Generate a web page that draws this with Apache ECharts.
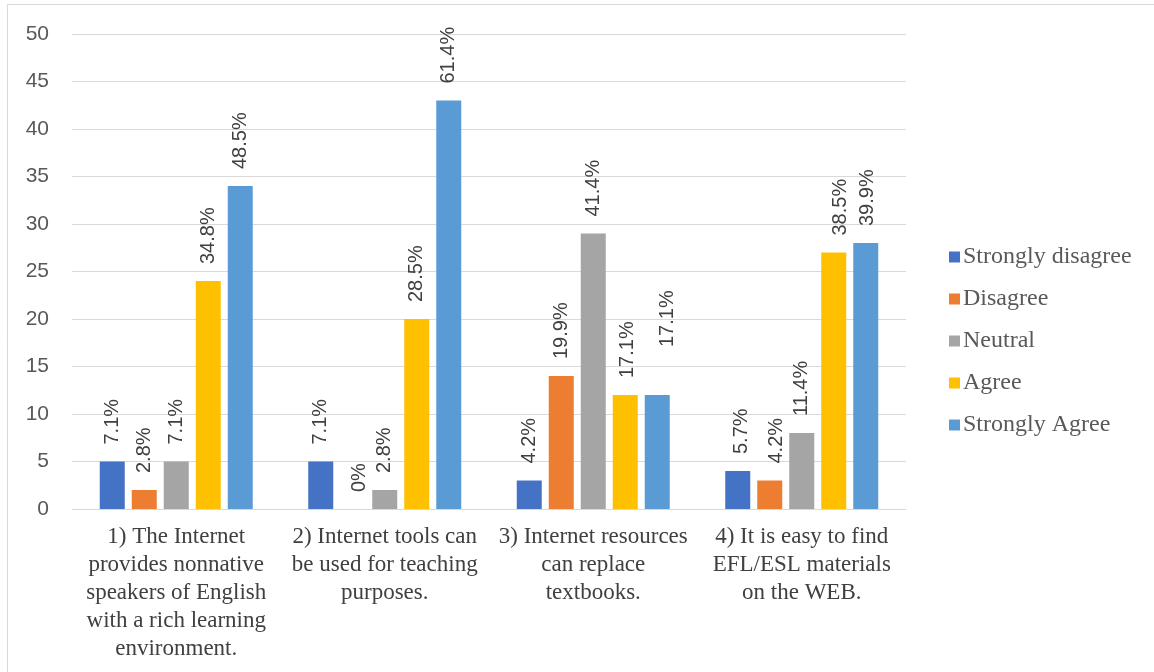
<!DOCTYPE html>
<html>
<head>
<meta charset="utf-8">
<script src="https://cdn.jsdelivr.net/npm/echarts@6/dist/echarts.min.js"></script>
<style>
  html, body { margin: 0; padding: 0; background: #ffffff; }
  #chart { width: 1154px; height: 672px; }
</style>
</head>
<body>
<div id="chart"></div>
<script>
// Survey statements (x-axis categories)
const categories = [
  '1) The Internet\nprovides nonnative\nspeakers of English\nwith a rich learning\nenvironment.',
  '2) Internet tools can\nbe used for teaching\npurposes.',
  '3) Internet resources\ncan replace\ntextbooks.',
  '4) It is easy to find\nEFL/ESL materials\non the WEB.'
];

// Response counts per answer option
const stronglyDisagree = [5, 5, 3, 4];
const disagree         = [2, 0, 14, 3];
const neutral          = [5, 2, 29, 8];
const agree            = [24, 20, 12, 27];
const stronglyAgree    = [34, 43, 12, 28];

// Percentage labels shown above each bar
const pctStronglyDisagree = ['7.1%', '7.1%', '4.2%', '5.7%'];
const pctDisagree         = ['2.8%', '0%', '19.9%', '4.2%'];
const pctNeutral          = ['7.1%', '2.8%', '41.4%', '11.4%'];
const pctAgree            = ['34.8%', '28.5%', '17.1%', '38.5%'];
const pctStronglyAgree    = ['48.5%', '61.4%', '17.1%', '39.9%'];

const seriesNames = ['Strongly disagree', 'Disagree', 'Neutral', 'Agree', 'Strongly Agree'];
const yTicks = [0, 5, 10, 15, 20, 25, 30, 35, 40, 45, 50];

const colors = ['#4472C4', '#ED7D31', '#A5A5A5', '#FFC000', '#5B9BD5'];
const values = [stronglyDisagree, disagree, neutral, agree, stronglyAgree];
const pcts = [pctStronglyDisagree, pctDisagree, pctNeutral, pctAgree, pctStronglyAgree];

// per-label nudges (series-category) for labels that sit closer to / beside their bars
const labelOffsets = {
  '1-1': [0, 7],
  '3-2': [0, 2],
  '4-2': [31, 10],
  '0-3': [0, 4],
  '1-3': [0, 7],
  '3-3': [0, 7],
  '4-3': [0, 2]
};

const chart = echarts.init(document.getElementById('chart'), null, { renderer: 'canvas' });

const series = seriesNames.map((name, si) => ({
  name: name,
  type: 'bar',
  barWidth: 25,
  barGap: '28%',
  itemStyle: { color: colors[si] },
  label: {
    show: true,
    position: 'top',
    rotate: 90,
    align: 'left',
    verticalAlign: 'middle',
    distance: 17,
    color: '#404040',
    fontSize: 20,
    fontFamily: 'Liberation Sans, Arial, sans-serif',
    formatter: p => pcts[si][p.dataIndex]
  },
  data: values[si].map((v, di) => {
    const off = labelOffsets[si + '-' + di];
    return off ? { value: v, label: { offset: off } } : v;
  })
}));

chart.setOption({
  animation: false,
  backgroundColor: '#ffffff',
  color: colors,
  graphic: [{
    type: 'rect',
    shape: { x: 7.5, y: 4.5, width: 1200, height: 700 },
    style: { fill: 'none', stroke: '#d9d9d9', lineWidth: 1 },
    silent: true
  }],
  legend: {
    orient: 'vertical',
    left: 944,
    top: 240,
    itemWidth: 11,
    itemHeight: 11,
    itemGap: 18,
    icon: 'rect',
    textStyle: {
      color: '#595959',
      fontSize: 24,
      fontFamily: 'Liberation Serif, Times New Roman, serif',
      padding: [0, 0, 0, -2]
    },
    data: seriesNames
  },
  grid: {
    left: 72,
    right: 248,
    top: 34,
    bottom: 163,
    containLabel: false
  },
  xAxis: {
    type: 'category',
    data: categories,
    axisLine: { show: true, lineStyle: { color: '#d9d9d9', width: 1 } },
    axisTick: { show: false },
    axisLabel: {
      interval: 0,
      margin: 14,
      color: '#404040',
      fontSize: 23,
      lineHeight: 28,
      fontFamily: 'Liberation Serif, Times New Roman, serif',
      align: 'center'
    }
  },
  yAxis: {
    type: 'value',
    min: yTicks[0],
    max: yTicks[yTicks.length - 1],
    interval: 5,
    axisLine: { show: false },
    axisTick: { show: false },
    splitLine: { lineStyle: { color: '#d9d9d9', width: 1 } },
    axisLabel: {
      margin: 23,
      color: '#595959',
      fontSize: 21,
      fontFamily: 'Liberation Sans, Arial, sans-serif'
    }
  },
  series: series
});
</script>
</body>
</html>
